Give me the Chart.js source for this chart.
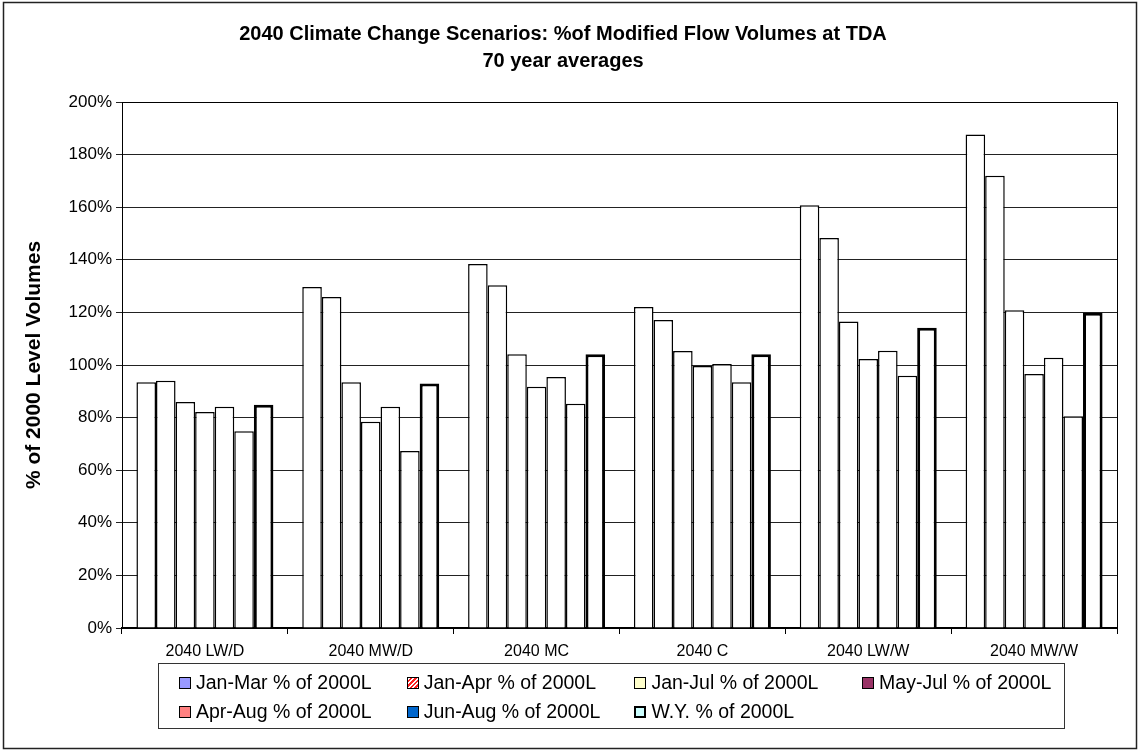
<!DOCTYPE html>
<html>
<head>
<meta charset="utf-8">
<script src="https://cdn.jsdelivr.net/npm/chart.js@4"></script>
<style>
    body { margin: 0; background: #fff; }
    .wrap { position: relative; width: 1140px; height: 752px; }
    #flowChart { display: block; }
    .legend-box {
        position: absolute;
        left: 158px;
        top: 663px;
        width: 907px;
        height: 66px;
        box-sizing: border-box;
        border: 1px solid #333;
        padding: 4px 0 0 20px;
        display: grid;
        grid-template-columns: repeat(4, 227.7px);
        grid-auto-rows: 29px;
        font-family: 'Liberation Sans', Arial, sans-serif;
        font-size: 19.5px;
        color: #000;
    }
    .legend-item { display: flex; align-items: center; white-space: nowrap; }
    .swatch {
        width: 12px;
        height: 12px;
        box-sizing: border-box;
        border: 1px solid #000;
        margin-right: 5px;
        flex: none;
    }
</style>
</head>
<body>
<div class="wrap">
    <canvas id="flowChart" width="1140" height="752"></canvas>
    <div class="legend-box" id="legendBox"></div>
</div>
<script>
// Scenarios on the x axis
const scenarios = ['2040 LW/D', '2040 MW/D', '2040 MC', '2040 C', '2040 LW/W', '2040 MW/W'];

// % of 2000 level volumes, one array per series
const janMar = [93.4, 129.7, 138.4, 122.1, 160.7, 187.6];
const janApr = [94.0, 125.9, 130.3, 117.1, 148.3, 172.0];
const janJul = [85.9, 93.4, 104.1, 105.3, 116.5, 120.8];
const mayJul = [82.1, 78.4, 91.7, 99.6, 102.3, 96.6];
const aprAug = [84.1, 84.1, 95.4, 100.4, 105.4, 102.8];
const junAug = [74.8, 67.3, 85.3, 93.4, 95.9, 80.5];
const waterYear = [84.9, 93.0, 104.1, 104.1, 114.2, 119.9];

const seriesNames = ['Jan-Mar % of 2000L', 'Jan-Apr % of 2000L', 'Jan-Jul % of 2000L', 'May-Jul % of 2000L',
    'Apr-Aug % of 2000L', 'Jun-Aug % of 2000L', 'W.Y. % of 2000L'];
const seriesValues = [janMar, janApr, janJul, mayJul, aprAug, junAug, waterYear];

// legend swatches keep the original fill colours (bars themselves print white)
const swatchFills = ['#9999ff', 'repeating-linear-gradient(135deg, #fff 0 1.6px, #ff2020 1.6px 3.2px)', '#ffffcc',
    '#993366', '#ff8080', '#0066cc', '#ccffff'];

const yTicks = [0, 20, 40, 60, 80, 100, 120, 140, 160, 180, 200];

let flowChart;

// outer frame + right/top edge of the plot area
const framePlugin = {
    id: 'frame',
    afterDraw(chart) {
        const c = chart.ctx;
        const a = chart.chartArea;
        c.save();
        c.strokeStyle = '#000';
        c.lineWidth = 1;
        c.strokeRect(Math.round(a.left) + 0.5, Math.round(a.top) + 0.5,
            Math.round(a.right - a.left), Math.round(a.bottom - a.top));
        c.strokeStyle = '#222';
        c.lineWidth = 1.5;
        c.strokeRect(3.5, 2.5, 1133, 746);
        c.restore();
    }
};

function initFlowChart() {
    Chart.defaults.font.family = "'Liberation Sans', Arial, sans-serif";
    Chart.defaults.color = '#000';

    const ctx = document.getElementById('flowChart').getContext('2d');
    flowChart = new Chart(ctx, {
        type: 'bar',
        data: {
            labels: scenarios,
            datasets: seriesValues.map((vals, i) => ({
                label: seriesNames[i],
                data: vals,
                backgroundColor: '#ffffff',
                borderColor: '#000000',
                borderWidth: i === seriesValues.length - 1 ? 3 : 1.5,
                categoryPercentage: 0.826,
                barPercentage: 1.0
            }))
        },
        options: {
            responsive: false,
            animation: false,
            layout: {
                padding: { left: 9, right: 23, top: 10, bottom: 94 }
            },
            plugins: {
                legend: { display: false },
                tooltip: { enabled: false },
                title: {
                    display: true,
                    text: ['2040 Climate Change Scenarios: %of Modified Flow Volumes at TDA', '70 year averages'],
                    color: '#000',
                    font: { size: 20, weight: 'bold', lineHeight: 1.35 },
                    padding: { top: 10.5, bottom: 27.5 }
                }
            },
            scales: {
                x: {
                    grid: {
                        drawOnChartArea: false,
                        color: '#000',
                        tickLength: 6
                    },
                    border: { color: '#000', width: 2 },
                    ticks: {
                        font: { size: 16 },
                        color: '#000',
                        padding: 8,
                        maxRotation: 0
                    },
                    afterFit(scale) { scale.height = 30; }
                },
                y: {
                    min: 0,
                    max: 200,
                    afterBuildTicks(scale) {
                        scale.ticks = yTicks.map(v => ({ value: v }));
                    },
                    grid: {
                        color: '#222',
                        tickLength: 6
                    },
                    border: { color: '#000', width: 1 },
                    ticks: {
                        font: { size: 17 },
                        color: '#000',
                        padding: 4,
                        callback: v => v + '%'
                    },
                    title: {
                        display: true,
                        text: '% of 2000 Level Volumes',
                        color: '#000',
                        font: { size: 21, weight: 'bold' },
                        padding: { top: 13, bottom: 4 }
                    },
                    afterFit(scale) { scale.width = 113; }
                }
            }
        },
        plugins: [framePlugin]
    });
}

function buildLegend() {
    const box = document.getElementById('legendBox');
    box.innerHTML = seriesNames.map((name, i) => `
        <div class="legend-item">
            <span class="swatch" style="background: ${swatchFills[i]};${i === 6 ? ' border-width: 2.5px;' : ''}"></span>
            <span>${name}</span>
        </div>
    `).join('');
}

initFlowChart();
buildLegend();
</script>
</body>
</html>
